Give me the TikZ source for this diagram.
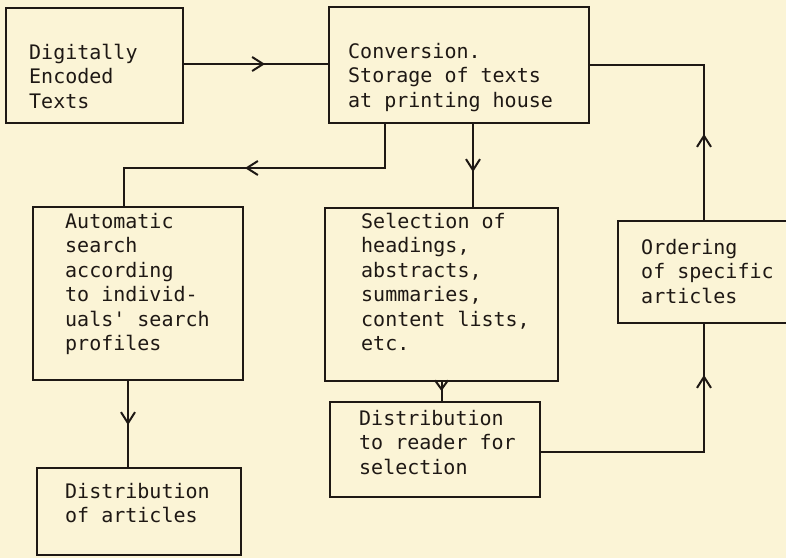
\documentclass[tikz,border=0pt]{standalone}
\usepackage{fontspec}
\setmonofont{DejaVu Sans Mono}
\usetikzlibrary{arrows.meta,decorations.markings}
\definecolor{paper}{RGB}{251,244,214}
\definecolor{ink}{RGB}{30,24,20}
\begin{document}
\begin{tikzpicture}[x=1pt,y=-1pt,
  box/.style={draw=ink, line width=2pt, rectangle, inner sep=0pt, anchor=north west},
  boxtext/.style={anchor=north west, inner sep=0pt, align=left, text=ink,
    font=\ttfamily\fontsize{20}{24.4}\selectfont,
    execute at begin node={\rule{0pt}{16pt}}},
  link/.style={draw=ink, line width=2pt},
  flowmark/.style={postaction={decorate}, decoration={markings,
    mark=at position #1 with {\arrow{Straight Barb[length=11pt,width=14pt]}}}},
  smallmark/.style={postaction={decorate}, decoration={markings,
    mark=at position #1 with {\arrow{Straight Barb[length=9pt,width=13pt]}}}},
]
\useasboundingbox (0,0) rectangle (786,558);
\clip (0,0) rectangle (786,558);
\fill[paper] (0,0) rectangle (786,558);

% boxes
\node[box, minimum width=177pt, minimum height=115pt] (A) at (5,7) {};
\node[box, minimum width=260pt, minimum height=116pt] (B) at (328,6) {};
\node[box, minimum width=210pt, minimum height=173pt] (C) at (32,206) {};
\node[box, minimum width=233pt, minimum height=173pt] (D) at (324,207) {};
\node[box, minimum width=172pt, minimum height=102pt] (E) at (617,220) {};
\node[box, minimum width=210pt, minimum height=95pt] (F) at (329,401) {};
\node[box, minimum width=204pt, minimum height=87pt] (G) at (36,467) {};

% box texts
\node[boxtext] (Atext) at ([shift={(24,37)}]A.north west) {Digitally\\Encoded\\Texts};
\node[boxtext] (Btext) at ([shift={(20,37)}]B.north west) {Conversion.\\Storage of texts\\at printing house};
\node[boxtext] (Ctext) at ([shift={(33,7)}]C.north west) {Automatic\\search\\according\\to individ-\\uals' search\\profiles};
\node[boxtext] (Dtext) at ([shift={(37,6)}]D.north west) {Selection of\\headings,\\abstracts,\\summaries,\\content lists,\\etc.};
\node[boxtext] (Etext) at ([shift={(24,19)}]E.north west) {Ordering\\of specific\\articles};
\node[boxtext] (Ftext) at ([shift={(30,9)}]F.north west) {Distribution\\to reader for\\selection};
\node[boxtext] (Gtext) at ([shift={(29,16)}]G.north west) {Distribution\\of articles};

% connector end points
\coordinate (splitL) at ([xshift=57pt]B.south west);
\coordinate (splitM) at ([xshift=145pt]B.south west);
\coordinate (inC) at ([xshift=92pt]C.north west);
\coordinate (turnL) at (124,168);
\coordinate (outC) at ([xshift=96pt]C.south west);
\coordinate (outF) at ([yshift=-2.5pt]F.east);

% connectors
\draw[link, flowmark=81pt] ([yshift=1.5pt]A.east) -- ([yshift=1.5pt]A.east -| B.west);
\draw[link, flowmark=86pt] (E.north) |- (B.east);
\draw[link, flowmark=184pt] (splitL) |- (turnL) -- (inC);
\draw[link, flowmark=48pt] (splitM) -- (splitM |- D.north);
\draw[link, flowmark=44pt] (outC) -- (outC |- G.north);
\draw[link, smallmark=9pt] (D.south) -- (D.south |- F.north);
\draw[link, flowmark=240pt] (outF) -| (E.south);
\end{tikzpicture}
\end{document}
